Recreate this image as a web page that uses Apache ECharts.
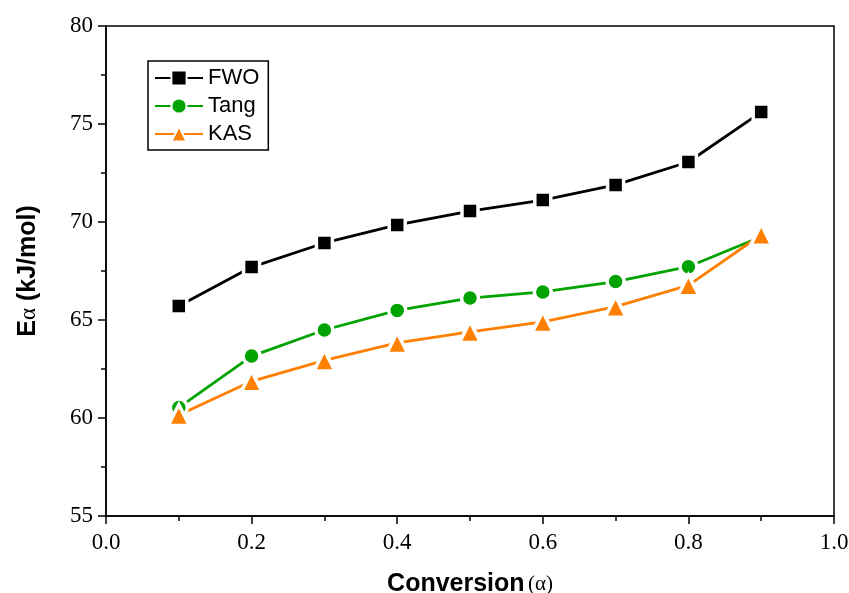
<!DOCTYPE html>
<html>
<head>
<meta charset="utf-8">
<script src="https://cdn.jsdelivr.net/npm/echarts@6/dist/echarts.min.js"></script>
<style>
  html, body { margin: 0; padding: 0; background: #fff; }
  #chart { width: 849px; height: 593px; }
</style>
</head>
<body>
<div id="chart"></div>
<script>
// Activation energy versus conversion for three isoconversional methods
const conversion = [0.1, 0.2, 0.3, 0.4, 0.5, 0.6, 0.7, 0.8, 0.9];
const fwo  = [65.71, 67.70, 68.93, 69.85, 70.56, 71.12, 71.89, 73.06, 75.61];
const tang = [60.53, 63.16, 64.49, 65.49, 66.12, 66.43, 66.96, 67.72, 69.25];
const kas  = [60.15, 61.87, 62.94, 63.83, 64.39, 64.90, 65.68, 66.77, 69.35];

const seriesNames = ['FWO', 'Tang', 'KAS'];
const seriesColors = ['#000000', '#00A300', '#FF8000'];

const pairs = (ys) => conversion.map((x, i) => [x, ys[i]]);

const serifFont = '"Liberation Serif", "Times New Roman", serif';
const sansFont = '"Liberation Sans", Arial, sans-serif';

const chart = echarts.init(document.getElementById('chart'));

// White symbol outline leaves a small gap where the line meets each marker
function makeSeries(name, data, color, symbol, size) {
  return {
    name: name,
    type: 'line',
    data: pairs(data),
    symbol: symbol,
    symbolSize: size,
    showAllSymbol: true,
    lineStyle: { color: color, width: 2.8 },
    itemStyle: { color: color, borderColor: '#ffffff', borderWidth: 3.5 },
    emphasis: { disabled: true },
    z: 3
  };
}

chart.setOption({
  animation: false,
  backgroundColor: '#ffffff',
  grid: {
    left: 106, right: 15, top: 26, bottom: 77,
    containLabel: false,
    outerBoundsMode: 'none',
    show: true, borderColor: '#000', borderWidth: 1.5
  },
  legend: {
    orient: 'vertical',
    left: 148, top: 61,
    data: seriesNames,
    itemWidth: 48, itemHeight: 19, itemGap: 6,
    padding: [6, 9, 5, 6],
    borderColor: '#000', borderWidth: 1.5,
    textStyle: { fontFamily: sansFont, fontSize: 22, color: '#000' }
  },
  xAxis: {
    type: 'value',
    min: 0, max: 1, interval: 0.2,
    name: '{b|Conversion} {s|(α)}',
    nameLocation: 'middle', nameGap: 56,
    nameTextStyle: {
      rich: {
        b: { fontFamily: sansFont, fontWeight: 'bold', fontSize: 25, color: '#000' },
        s: { fontFamily: serifFont, fontSize: 21, color: '#000' }
      }
    },
    axisLine: { lineStyle: { color: '#000', width: 1.5 } },
    axisTick: { length: 8, lineStyle: { width: 1.5 } },
    minorTick: { show: true, splitNumber: 2, length: 5, lineStyle: { color: '#000', width: 1.5 } },
    splitLine: { show: false },
    axisLabel: {
      fontFamily: serifFont, fontSize: 23, color: '#000', margin: 15,
      formatter: (v) => v.toFixed(1)
    }
  },
  yAxis: {
    type: 'value',
    min: 55, max: 80, interval: 5,
    name: '{b|E}{s|α}{b| (kJ/mol)}',
    nameLocation: 'middle', nameGap: 65,
    nameTextStyle: {
      rich: {
        b: { fontFamily: sansFont, fontWeight: 'bold', fontSize: 25, color: '#000' },
        s: { fontFamily: serifFont, fontSize: 23, color: '#000' }
      }
    },
    axisLine: { show: true, lineStyle: { color: '#000', width: 1.5 } },
    axisTick: { show: true, length: 8, lineStyle: { width: 1.5 } },
    minorTick: { show: true, splitNumber: 2, length: 5, lineStyle: { color: '#000', width: 1.5 } },
    splitLine: { show: false },
    axisLabel: { fontFamily: serifFont, fontSize: 23, color: '#000', margin: 13 }
  },
  series: [
    makeSeries(seriesNames[0], fwo, seriesColors[0], 'rect', 16),
    makeSeries(seriesNames[1], tang, seriesColors[1], 'circle', 17),
    makeSeries(seriesNames[2], kas, seriesColors[2], 'triangle', 21)
  ]
});
</script>
</body>
</html>
